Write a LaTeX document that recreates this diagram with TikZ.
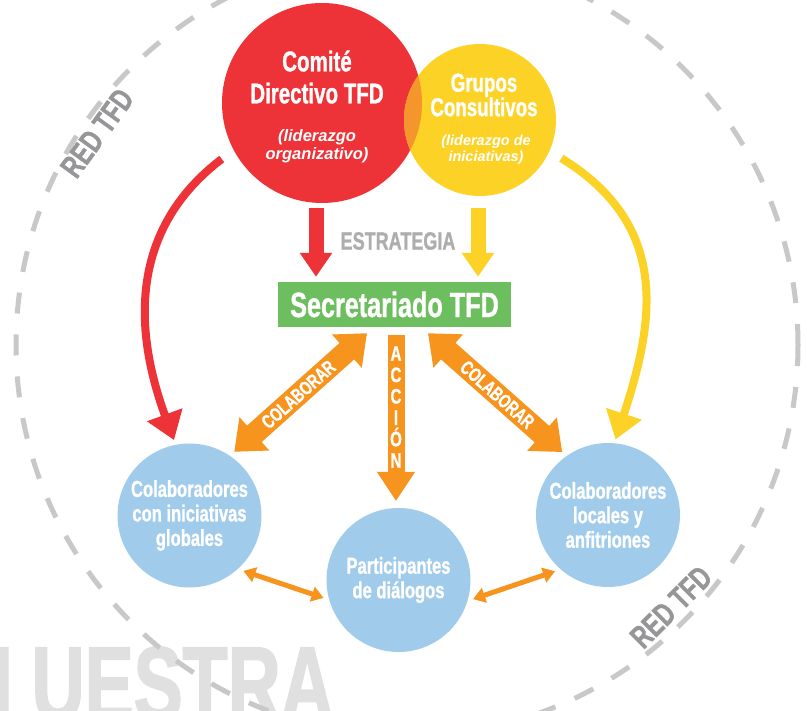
\documentclass[tikz,border=0pt]{standalone}
\usepackage{fontspec}
\setmainfont{Liberation Sans}
\newfontfamily\condfont{Liberation Sans}[FakeStretch=0.72,BoldFeatures={FakeBold=1}]
\newfontfamily\wmfont{Liberation Sans}[FakeStretch=0.7,BoldFeatures={FakeBold=1.5}]
\newcommand\fsz[2]{\fontsize{#1}{#2}\selectfont}
\usetikzlibrary{arrows.meta,positioning}
\definecolor{tfdred}{RGB}{237,50,56}
\definecolor{tfdyellow}{RGB}{252,210,38}
\definecolor{tfdamber}{RGB}{244,150,44}
\definecolor{tfdorange}{RGB}{247,148,30}
\definecolor{tfdgreen}{RGB}{108,190,94}
\definecolor{tfdblue}{RGB}{160,203,235}
\definecolor{tfddash}{RGB}{200,200,200}
\definecolor{tfdtext}{RGB}{150,150,152}
\definecolor{tfdmark}{RGB}{224,224,224}
\begin{document}
\begin{tikzpicture}[x=1pt,y=-1pt,
disc/.style={circle,inner sep=0pt,outer sep=0pt,minimum size=#1},
ttl/.style 2 args={text=white,align=center,inner sep=0pt,font=\condfont\bfseries\fsz{#1}{#2}},
sub/.style 2 args={text=white,align=center,inner sep=0pt,font=\bfseries\itshape\fsz{#1}{#2}},
bluedisc/.style={disc=144pt,fill=tfdblue,ttl={23}{24.5}},
netlabel/.style={text=tfdtext,inner sep=0pt,font=\condfont\bfseries\fsz{32}{32}},
fat/.style={line width=15pt,-{Triangle[width=31pt,length=24pt]}},
lead/.style={line width=8pt,-{Triangle[width=36pt,length=27pt]}},
colab/.style={draw=tfdorange,line width=22pt,{Triangle[width=43pt,length=27pt]}-{Triangle[width=43pt,length=27pt]},shorten >=6pt},
link/.style={draw=tfdorange,line width=5pt,{Triangle[width=15pt,length=12pt]}-{Triangle[width=15pt,length=12pt]},shorten <=6pt,shorten >=6pt}]

\useasboundingbox (0,0) rectangle (807,711);
\fill[white] (0,0) rectangle (807,711);

\node[anchor=base west,inner sep=0pt,text=tfdmark,font=\wmfont\bfseries\fsz{105}{105}] (muestra) at (-8,720) {I\kern19pt UESTRA};

\node[disc=782pt,draw=tfddash,line width=5pt,dash pattern=on 21pt off 21pt] (net) at (407,345) {};
\node[netlabel,rotate=54] (redtfd1) at (97,133) {RED TFD};
\node[netlabel,rotate=45] (redtfd2) at (671,607) {RED TFD};

\node[disc=200pt,fill=tfdred] (comite) at (322,103) {};
\node[disc=152pt,fill=tfdyellow] (grupos) at (480,120) {};
\begin{scope}
\clip (comite.center) circle[radius=100pt];
\fill[tfdamber] (grupos.center) circle[radius=76pt];
\end{scope}

\node[ttl={28.5}{32}] (comite-t) at (317,77) {Comité\\Directivo TFD};
\node[sub={16.5}{18}] (comite-s) at (317,146) {(liderazgo\\organizativo)};
\node[ttl={26}{24.5}] (grupos-t) at (484,95) {Grupos\\Consultivos};
\node[sub={14.5}{16}] (grupos-s) at (486,150) {(liderazgo de\\iniciativas)};

\node[fill=tfdgreen,minimum width=233pt,minimum height=45pt,inner sep=0pt,ttl={35}{35}] (secretariado) at (394.5,304.5) {Secretariado TFD};
\node[text=black!32,inner sep=0pt,font=\condfont\bfseries\fsz{25}{25}] (estrategia) at (398,241) {ESTRATEGIA};

\node[bluedisc] (globales) at (189.5,515.5) {Colaboradores\\con iniciativas\\globales};
\node[bluedisc] (dialogos) at (398.5,580) {Participantes\\de diálogos};
\node[bluedisc] (locales) at (608,515) {Colaboradores\\locales y\\anfitriones};

\draw[fat,tfdred] ([xshift=-6pt,yshift=-5pt]comite.south) -- ([xshift=-6pt,yshift=5pt]comite.south |- secretariado.north);
\draw[fat,tfdyellow] ([xshift=-2pt,yshift=-12pt]grupos.south) -- ([xshift=-2pt,yshift=5pt]grupos.south |- secretariado.north);

\draw[lead,tfdred,shorten <=15pt,shorten >=5pt] (comite.208) .. controls (135,225) and (130,320) .. (globales.101);
\draw[lead,tfdyellow,shorten <=14pt,shorten >=4pt] (grupos.-24) .. controls (670,225) and (655,320) .. (locales.85);

\draw[colab] ([xshift=-27.5pt,yshift=-6pt]secretariado.south) -- (globales.56) node[midway,sloped,ttl={19.5}{19.5}] (colab1) {COLABORAR};
\draw[colab] ([xshift=33.5pt,yshift=-6pt]secretariado.south) -- (locales.125) node[midway,sloped,ttl={19.5}{19.5}] (colab2) {COLABORAR};
\draw[draw=tfdorange,line width=17pt,-{Triangle[width=36pt,length=29pt]}] ([xshift=-2.5pt,yshift=-8pt]secretariado.south -| dialogos.north) -- ([xshift=-2.5pt,yshift=7pt]dialogos.north);
\node[ttl={21}{21.4}] (accion) at (396,407) {A\\C\\C\\I\\Ó\\N};

\draw[link] (globales.-48) -- (dialogos.196);
\draw[link] (dialogos.-17) -- (locales.229);

\end{tikzpicture}
\end{document}
